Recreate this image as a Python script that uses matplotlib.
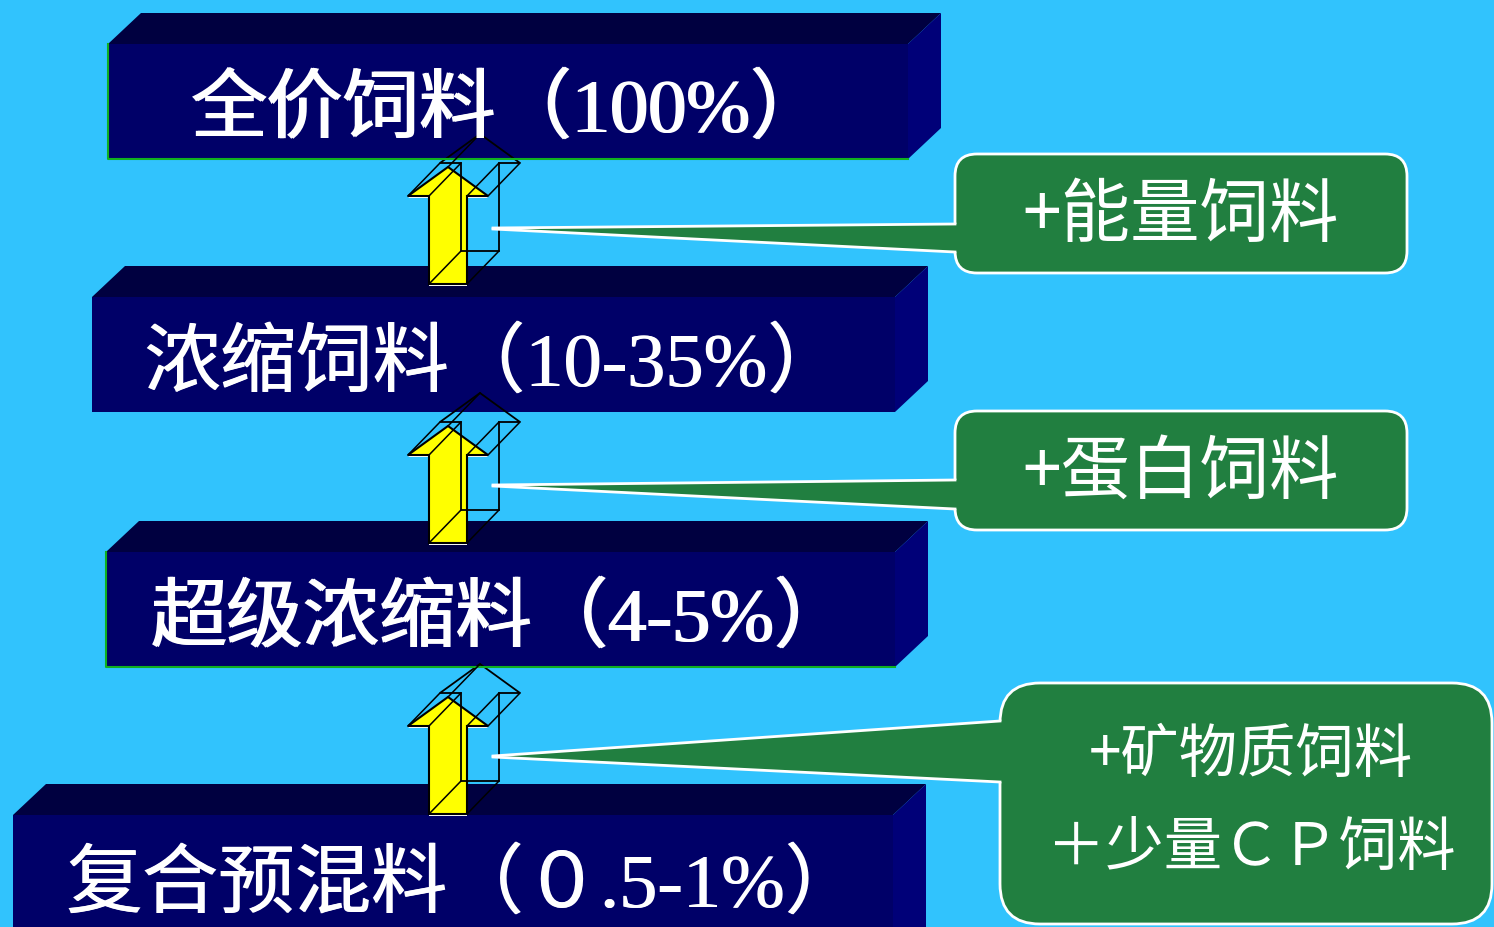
import matplotlib
matplotlib.use("Agg")
import matplotlib.pyplot as plt
from matplotlib.patches import Polygon, FancyBboxPatch

plt.rcParams['font.family'] = ['Liberation Serif', 'Noto Sans CJK SC', 'DejaVu Sans']

# labels of the feed levels, top to bottom
box_labels = ["全价饲料（100%）", "浓缩饲料（10-35%）", "超级浓缩料（4-5%）", "复合预混料（０.5-1%）"]
# what is added between two levels
callout_labels = ["+能量饲料", "+蛋白饲料", "+矿物质饲料\n＋少量ＣＰ饲料"]

# layout (pixel space, y down)
box_left = [108, 92, 106, 13]
box_right = [908, 895, 895, 893]
box_top = [45, 298, 553, 816]
box_h = 115
depth_x, depth_y = 33, 31
text_x = [190, 143, 150, 65]
text_y = [111, 365, 620, 886]

arrow_tip = [168, 427, 698]
callouts = [(955, 155, 452, 119, 22), (955, 412, 452, 119, 22), (1000, 684, 492, 241, 40)]
pointer_tip = [229, 486, 757]
pointer_attach = [(225, 253), (481, 510), (722, 783)]
callout_text_y = [[216], [473], [756, 849]]
callout_fs = [50, 50, 42]

bg = "#31C3FD"
green = "#217F40"

fig = plt.figure(figsize=(14.94, 9.28), dpi=100)
ax = fig.add_axes([0, 0, 1, 1])
ax.set_xlim(0, 1494)
ax.set_ylim(928, 0)
ax.axis("off")
fig.patch.set_facecolor(bg)

# 3D bars
for i in range(len(box_labels)):
    l, r, t = box_left[i], box_right[i], box_top[i]
    b = t + box_h if i < 3 else 960
    ax.add_patch(Polygon([(l, t), (l + depth_x, t - depth_y), (r + depth_x, t - depth_y), (r, t)],
                         closed=True, fc="#000040", ec="none"))
    ax.add_patch(Polygon([(r, t), (r + depth_x, t - depth_y), (r + depth_x, b - depth_y), (r, b)],
                         closed=True, fc="#000078", ec="none"))
    ax.add_patch(Polygon([(l, t), (r, t), (r, b), (l, b)], closed=True, fc="#000068", ec="none"))
    if i in (0, 2):
        ax.plot([l, l, r], [t, b, b], color="#10B020", lw=1.5)
    # drawn twice with a small shift so the strokes look heavier
    for dx in (0, 1.5):
        ax.text(text_x[i] + dx, text_y[i], box_labels[i], color="white", fontsize=55,
                va="center", ha="left")


def arrow_pts(x0, tip):
    # front arrow outline
    sl, sr = x0 + 21, x0 + 59
    hl, hr = x0, x0 + 80
    cx = x0 + 40
    hb, bot = tip + 29, tip + 117
    return [(cx, tip), (hr, hb), (sr, hb), (sr, bot), (sl, bot), (sl, hb), (hl, hb)]


for i, tip in enumerate(arrow_tip):
    front = arrow_pts(408, tip)
    back = [(x + 32, y - 33) for x, y in front]
    ax.add_patch(Polygon([(x, y + 2) for x, y in front], closed=True, fc="white", ec="none"))
    ax.add_patch(Polygon(front, closed=True, fc="#FFFF00", ec="black", lw=1.5))
    ax.add_patch(Polygon(back, closed=True, fc="none", ec="black", lw=1.3))
    for (x1, y1), (x2, y2) in zip(front, back):
        ax.plot([x1, x2], [y1, y2], color="black", lw=1.1)

# callouts
for i, (x, y, w, h, rad) in enumerate(callouts):
    ax.add_patch(FancyBboxPatch((x, y), w, h, boxstyle=f"round,pad=0,rounding_size={rad}",
                                fc=green, ec="white", lw=2))
    a1, a2 = pointer_attach[i]
    tx = 493
    ax.add_patch(Polygon([(tx, pointer_tip[i]), (x + 3, a1), (x + 3, a2)], closed=True,
                         fc=green, ec="none"))
    ax.plot([tx, x], [pointer_tip[i], a1], color="white", lw=2)
    ax.plot([tx, x], [pointer_tip[i] + 1, a2], color="white", lw=2)
    lines = callout_labels[i].split("\n")
    for line, ly in zip(lines, callout_text_y[i]):
        ax.text(x + w / 2 + (5 if i == 2 else 0), ly, line, color="white",
                fontsize=callout_fs[i], ha="center", va="center",
                family=["Noto Sans CJK SC", "DejaVu Sans"])

fig.savefig("out.png", dpi=100, facecolor=bg)
